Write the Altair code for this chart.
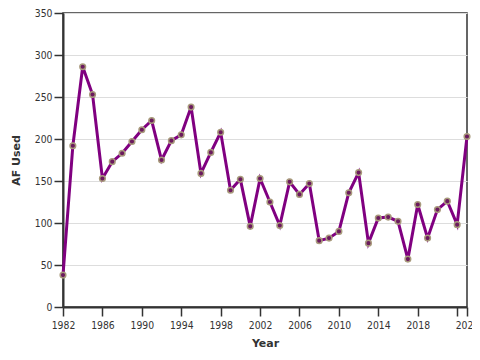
import altair as alt
import pandas as pd

years = list(range(1982, 2024))
af_used = [38, 192, 286, 253, 153, 173, 183, 197, 211, 222,
           175, 198, 205, 238, 159, 184, 208, 139, 152, 96,
           153, 125, 97, 149, 134, 147, 79, 82, 90, 136,
           160, 76, 106, 107, 102, 57, 122, 82, 116, 126,
           98, 203]
x_ticks = [1982, 1986, 1990, 1994, 1998, 2002, 2006, 2010, 2014, 2018, 2022, 2023]
y_ticks = [0, 50, 100, 150, 200, 250, 300, 350]

df = pd.DataFrame({"Year": years, "AF": af_used})

label_font = "DejaVu Sans Condensed, DejaVu Sans"
title_font = "DejaVu Sans"

x_enc = alt.X("Year:Q",
              scale=alt.Scale(domain=[1982, 2023], nice=False, zero=False),
              axis=alt.Axis(values=x_ticks, format="d", title="Year", grid=False,
                            labelExpr="datum.value == 2022 ? '' : datum.label",
                            labelOverlap=False, labelFlush=False, labelBound=False,
                            titlePadding=7, labelPadding=4))
y_enc = alt.Y("AF:Q",
              scale=alt.Scale(domain=[0, 350], nice=False),
              axis=alt.Axis(values=y_ticks, title="AF Used", grid=True,
                            labelOverlap=False, titlePadding=13, labelPadding=2))

base = alt.Chart(df).encode(x=x_enc, y=y_enc)
line = base.mark_line(color="#800080", strokeWidth=3)
pts = base.mark_point(filled=True, fill="#6b1a5e", stroke="#a89a7c",
                      strokeWidth=1.5, size=32, opacity=1)

chart = alt.layer(line, pts).properties(
    width=404, height=294,
    autosize=alt.AutoSizeParams(type="none"),
    padding={"left": 55, "top": 5, "right": 5, "bottom": 45},
).configure_view(stroke="#333333", strokeWidth=1.5
).configure_axis(
    labelFont=label_font, labelFontSize=10.3, labelColor="#333333",
    titleFont=title_font, titleFontSize=11, titleFontWeight="bold", titleColor="#333333",
    domainColor="#333333", domainWidth=2, tickColor="#333333", tickSize=9, tickWidth=1.5,
    gridColor="#dddddd", gridWidth=1,
)

chart.save("out.html", embed_options={"renderer": "svg", "actions": False})
